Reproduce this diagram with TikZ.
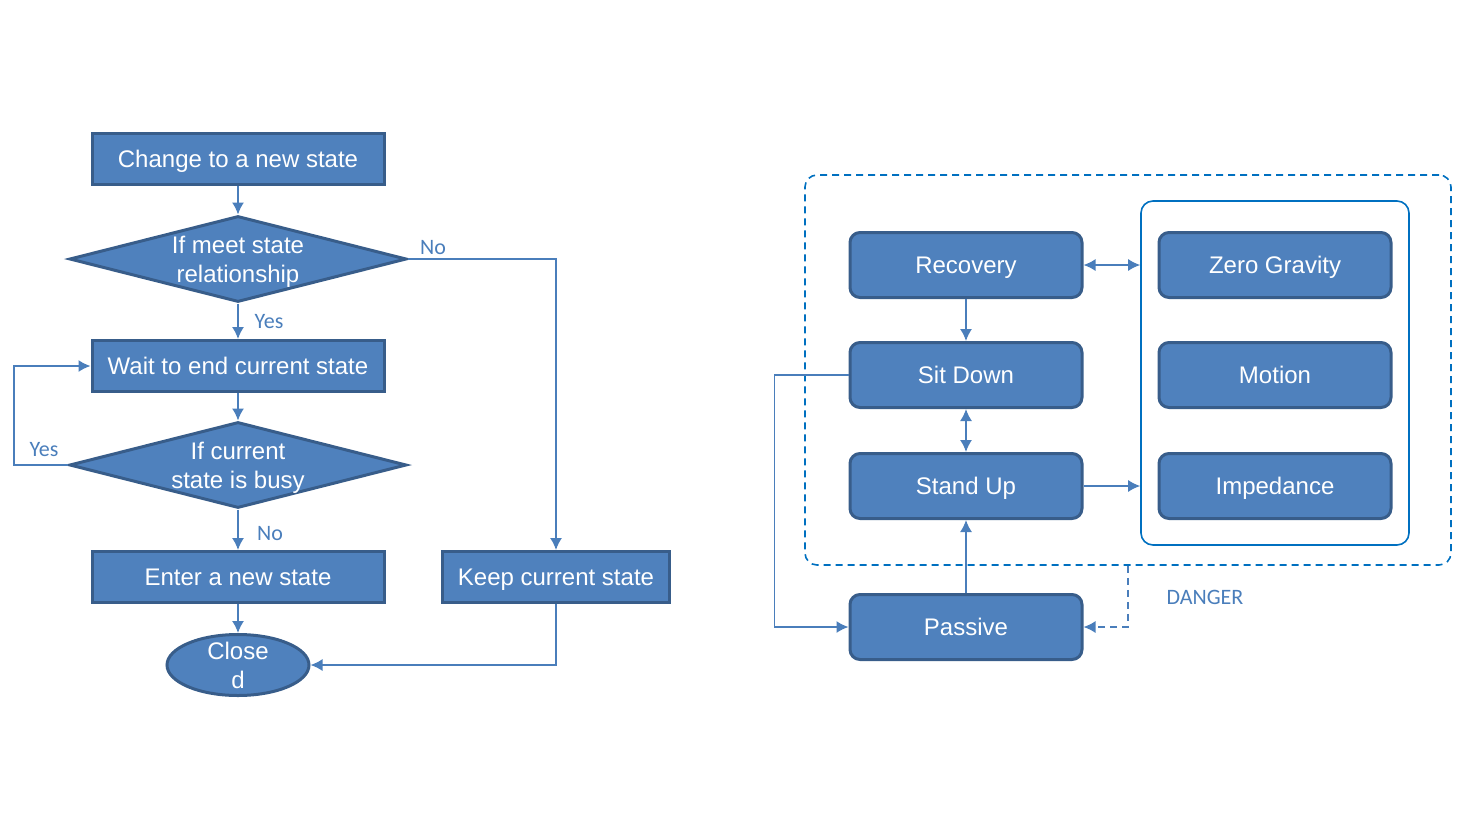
\documentclass[tikz,border=0pt]{standalone}
\usepackage{fontspec}
\setmainfont{Liberation Sans}
\newfontfamily\labelfont{Carlito}
\usetikzlibrary{shapes.geometric,arrows.meta}
\definecolor{boxfill}{HTML}{4F81BD}
\definecolor{boxedge}{HTML}{385D8A}
\definecolor{wire}{HTML}{4A7EBB}
\definecolor{frame}{HTML}{0070C0}
\definecolor{tagblue}{HTML}{4A7EBB}
\begin{document}
\begin{tikzpicture}[x=0.5pt,y=-0.5pt,
  boxtext/.style={text=white,font=\fontsize{12}{14.5}\selectfont,align=center},
  onelinetext/.style={boxtext,text height=8.6pt,text depth=0pt},
  twolinetext/.style={boxtext,inner sep=0pt,yshift=-1.5pt},
  flowbox/.style={rectangle,fill=boxfill,draw=boxedge,line width=1.5pt,
    minimum width=146pt,minimum height=25.5pt,inner sep=0pt,onelinetext},
  decision/.style={diamond,fill=boxfill,draw=boxedge,line width=1.5pt,
    minimum width=168.5pt,minimum height=43pt,inner sep=0pt},
  endstate/.style={ellipse,fill=boxfill,draw=boxedge,line width=1.5pt,
    minimum width=71pt,minimum height=30.5pt,inner sep=0pt},
  statebox/.style={rectangle,rounded corners=5pt,fill=boxfill,draw=boxedge,line width=1.5pt,
    minimum width=116pt,minimum height=32.5pt,inner sep=0pt,onelinetext},
  conn/.style={draw=wire,line width=0.75pt,-{Latex[length=6pt,width=6pt]}},
  biconn/.style={draw=wire,line width=0.75pt,{Latex[length=6pt,width=6pt]}-{Latex[length=6pt,width=6pt]}},
  tag/.style={text=tagblue,font=\labelfont\fontsize{11}{13}\selectfont,inner sep=0pt},
  group/.style={rectangle,rounded corners=6pt,draw=frame,line width=0.8pt,inner sep=0pt}
]
\useasboundingbox (0,0) rectangle (1468,826);

% ---------- state change flow ----------
\node[flowbox] (change) at (238,159) {Change to a new state};
\node[decision] (meet) at (238,259) {};
\node[twolinetext] (meettext) at (238,259) {If meet state\\relationship};
\node[flowbox] (wait) at (238,366) {Wait to end current state};
\node[decision] (busy) at (238,465) {};
\node[twolinetext] (busytext) at (238,465) {If current\\state is busy};
\node[flowbox] (enter) at (238,577) {Enter a new state};
\node[flowbox,minimum width=113.5pt] (keep) at (556,577) {Keep current state};
\node[endstate] (closed) at (238,665) {};
\node[twolinetext,yshift=1.5pt] (closedtext) at (238,665) {Close\\d};

\draw[conn] (change) -- (meet);
\draw[conn] (meet) -- (wait);
\draw[conn] (wait) -- (busy);
\draw[conn] (busy) -- (enter);
\draw[conn] (enter) -- (closed);
\draw[conn] (meet.east) -| (keep.north);
\draw[conn] (busy.west) -- ++(-54,0) |- (wait.west);
\draw[conn] (keep.south) |- (closed.east);

\node[tag] (tagyes1) at (269,322) {Yes};
\node[tag] (tagno1) at (433,248) {No};
\node[tag] (tagyes2) at (44,450) {Yes};
\node[tag] (tagno2) at (270,534) {No};

% ---------- robot states ----------
\node[group,dashed,dash pattern=on 3.5pt off 2.5pt,minimum width=323pt,minimum height=195pt] (safe) at (1128,370) {};
\node[group,minimum width=134pt,minimum height=172pt] (modes) at (1275,373) {};

\node[statebox] (recovery) at (966,265) {Recovery};
\node[statebox] (sitdown) at (966,375) {Sit Down};
\node[statebox] (standup) at (966,486) {Stand Up};
\node[statebox] (passive) at (966,627) {Passive};
\node[statebox] (zerog) at (1275,265) {Zero Gravity};
\node[statebox] (motion) at (1275,375) {Motion};
\node[statebox] (impedance) at (1275,486) {Impedance};

\draw[biconn] (recovery.east) -- (recovery.east -| modes.west);
\draw[conn] (recovery) -- (sitdown);
\draw[biconn] (sitdown) -- (standup);
\draw[conn] (standup.east) -- (standup.east -| modes.west);
\draw[conn] (passive) -- (standup);
\draw[conn] (sitdown.west) -- ++(-74,0) |- (passive.west);
\draw[conn,dashed,dash pattern=on 3.5pt off 2.5pt] (safe.south) |- (passive.east);

\node[tag] (danger) at (1205,597) {DANGER};
\end{tikzpicture}
\end{document}
